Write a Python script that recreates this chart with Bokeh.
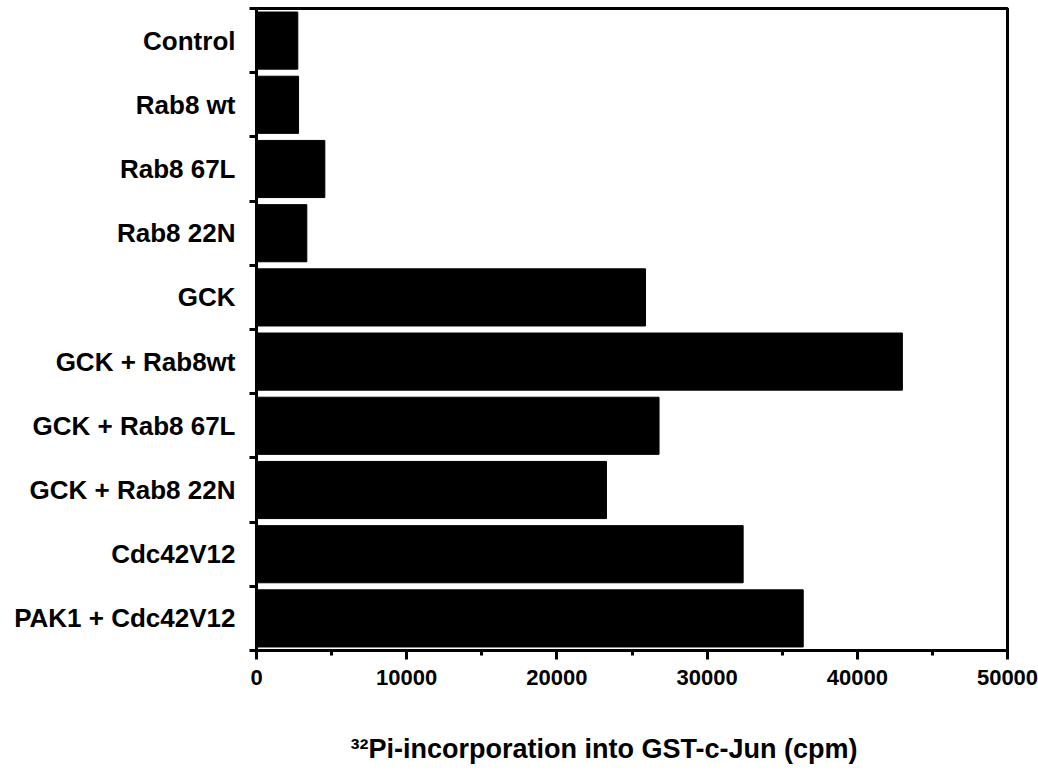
from bokeh.plotting import figure
from bokeh.models import Range1d, FixedTicker, NumeralTickFormatter, Title, ColumnDataSource
from bokeh.embed import file_html
from bokeh.resources import INLINE

categories = ["Control", "Rab8 wt", "Rab8 67L", "Rab8 22N", "GCK", "GCK + Rab8wt",
              "GCK + Rab8 67L", "GCK + Rab8 22N", "Cdc42V12", "PAK1 + Cdc42V12"]
values = [2750, 2800, 4550, 3350, 25900, 43000, 26800, 23300, 32400, 36400]
x_ticks = [0, 10000, 20000, 30000, 40000, 50000]
x_minor = [5000, 15000, 25000, 35000, 45000]
x_title = "\u00b3\u00b2Pi-incorporation into GST-c-Jun (cpm)"

n = len(categories)
positions = [n - 0.5 - i for i in range(n)]
source = ColumnDataSource(dict(y=positions, right=values, name=categories))

FONT = "Liberation Sans"

p = figure(frame_width=751, frame_height=642, output_backend="svg", toolbar_location=None,
           x_range=Range1d(0, 50000), y_range=Range1d(0, n),
           min_border_left=256, min_border_right=31, min_border_top=8, min_border_bottom=129)

p.hbar(y="y", left=0, right="right", height=0.89, source=source,
       fill_color="black", line_color="black")

p.grid.visible = False
p.outline_line_color = "black"
p.outline_line_width = 3
p.background_fill_color = "white"
p.border_fill_color = "white"

# x axis
xa = p.xaxis[0]
xa.ticker = FixedTicker(ticks=x_ticks, minor_ticks=x_minor)
xa.formatter = NumeralTickFormatter(format="0")
xa.axis_line_width = 3
xa.axis_line_color = "black"
xa.major_tick_in = 0
xa.major_tick_out = 9
xa.major_tick_line_width = 3
xa.minor_tick_in = 0
xa.minor_tick_out = 5
xa.minor_tick_line_width = 3
xa.major_label_text_font = FONT
xa.major_label_text_font_style = "bold"
xa.major_label_text_font_size = "22px"
xa.major_label_text_color = "black"
xa.major_label_standoff = 10

# y axis: labels at category centres, ticks at boundaries
ya = p.yaxis[0]
ya.ticker = FixedTicker(ticks=positions, minor_ticks=list(range(n + 1)))
ya.major_label_overrides = {pos: name for pos, name in zip(positions, categories)}
ya.axis_line_width = 3
ya.axis_line_color = "black"
ya.major_tick_line_color = None
ya.major_tick_in = 0
ya.major_tick_out = 0
ya.minor_tick_in = 0
ya.minor_tick_out = 7
ya.minor_tick_line_width = 3
ya.major_label_text_font = FONT
ya.major_label_text_font_style = "bold"
ya.major_label_text_font_size = "26px"
ya.major_label_text_color = "black"
ya.major_label_standoff = 14

# x-axis title (below the axis, left-aligned with an offset)
t = Title(text=x_title, align="left", offset=94, standoff=88,
          text_font=FONT, text_font_size="27px", text_font_style="bold",
          text_color="black")
p.add_layout(t, "below")

open("out.html", "w").write(file_html(p, INLINE))
